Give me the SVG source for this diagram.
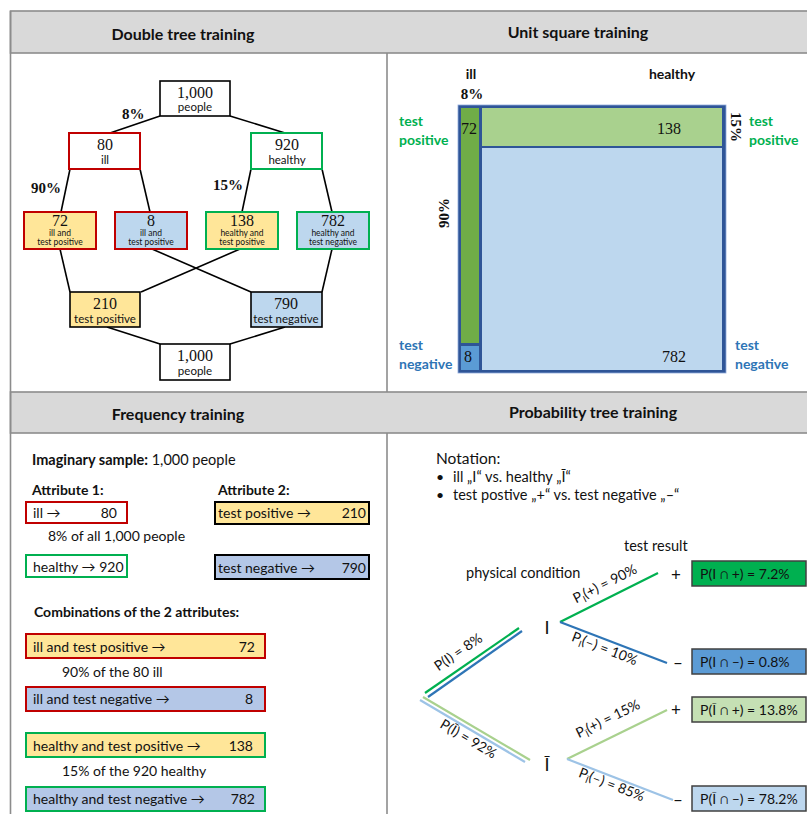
<svg xmlns="http://www.w3.org/2000/svg" width="807" height="814" viewBox="0 0 807 814">
<defs>
<style>
.hdr{font-family:Lato,"Liberation Sans",sans-serif;font-weight:bold;font-size:16px;text-anchor:middle;fill:#111}
.band{fill:#D9D9D9;stroke:#8C8C8C;stroke-width:1.6}
.grid{stroke:#8C8C8C;stroke-width:1.6;fill:none}
.num{font-family:"Liberation Serif",serif;font-size:16px;text-anchor:middle;fill:#111}
.sub{font-family:Lato,"Liberation Sans",sans-serif;font-size:11.5px;text-anchor:middle;fill:#111}
.tiny{font-family:Lato,"Liberation Sans",sans-serif;font-size:8.5px;text-anchor:middle;fill:#111}
.pct{font-family:"Liberation Serif",serif;font-weight:bold;font-size:15px;fill:#111}
.tl{stroke:#000;stroke-width:1.6;fill:none}
.bx{stroke-width:2}
.body{font-family:Lato,"Liberation Sans",sans-serif;font-size:14px;fill:#111}
.bold{font-weight:bold}
.gr{fill:#00B050;font-family:Lato,"Liberation Sans",sans-serif;font-weight:bold;font-size:14px}
.bl{fill:#2E75B6;font-family:Lato,"Liberation Sans",sans-serif;font-weight:bold;font-size:14px}
.end{text-anchor:end}
.mid{text-anchor:middle}
.rb{stroke:#404040;stroke-width:1.5}
</style>
</defs>
<rect width="807" height="814" fill="#fff"/>
<!-- frame -->
<g id="frame">
<rect class="band" x="10.5" y="11" width="800" height="42"/>
<rect class="band" x="10.5" y="392" width="800" height="41"/>
<line class="grid" x1="10.5" y1="11" x2="10.5" y2="814"/>
<line class="grid" x1="387" y1="53" x2="387" y2="392"/>
<line class="grid" x1="387" y1="433" x2="387" y2="814"/>
<text class="hdr" x="183" y="40">Double tree training</text>
<text class="hdr" x="578" y="38">Unit square training</text>
<text class="hdr" x="178" y="420">Frequency training</text>
<text class="hdr" x="593" y="418">Probability tree training</text>
</g>

<!-- Double tree -->
<g id="tree-connectors">
<line class="tl" x1="160" y1="116" x2="110" y2="133"/>
<line class="tl" x1="230" y1="116" x2="285" y2="133"/>
<line class="tl" x1="70" y1="169" x2="61" y2="212"/>
<line class="tl" x1="140" y1="169" x2="150" y2="212"/>
<line class="tl" x1="251" y1="169" x2="242" y2="212"/>
<line class="tl" x1="322" y1="169" x2="332" y2="212"/>
<line class="tl" x1="60" y1="249" x2="70" y2="292"/>
<line class="tl" x1="152" y1="249" x2="251" y2="292"/>
<line class="tl" x1="240" y1="249" x2="141" y2="292"/>
<line class="tl" x1="332" y1="249" x2="322" y2="292"/>
<line class="tl" x1="107" y1="327" x2="160" y2="344"/>
<line class="tl" x1="285" y1="327" x2="230" y2="344"/>
</g>
<text class="pct" x="122" y="119">8%</text>
<text class="pct" x="31" y="193">90%</text>
<text class="pct" x="213" y="190">15%</text>
<g id="t-top">
<rect x="160" y="81" width="70" height="35" fill="#fff" stroke="#000" stroke-width="1.6"/>
<text class="num" x="195" y="98">1,000</text>
<text class="sub" x="195" y="111">people</text>
</g>
<g id="t-ill">
<rect class="bx" x="69" y="133" width="71" height="36" fill="#fff" stroke="#C00000"/>
<text class="num" x="105" y="150">80</text>
<text class="sub" x="105" y="164">ill</text>
</g>
<g id="t-healthy">
<rect class="bx" x="251" y="133" width="71" height="36" fill="#fff" stroke="#00B050"/>
<text class="num" x="287" y="150">920</text>
<text class="sub" x="287" y="164">healthy</text>
</g>
<g id="t-72">
<rect class="bx" x="24" y="212" width="72" height="37" fill="#FFE699" stroke="#C00000"/>
<text class="num" x="60" y="226">72</text>
<text class="tiny" x="60" y="236">ill and</text>
<text class="tiny" x="60" y="245">test positive</text>
</g>
<g id="t-8">
<rect class="bx" x="115" y="212" width="72" height="37" fill="#BDD7EE" stroke="#C00000"/>
<text class="num" x="151" y="226">8</text>
<text class="tiny" x="151" y="236">ill and</text>
<text class="tiny" x="151" y="245">test positive</text>
</g>
<g id="t-138">
<rect class="bx" x="206" y="212" width="72" height="37" fill="#FFE699" stroke="#00B050"/>
<text class="num" x="242" y="226">138</text>
<text class="tiny" x="242" y="236">healthy and</text>
<text class="tiny" x="242" y="245">test positive</text>
</g>
<g id="t-782">
<rect class="bx" x="297" y="212" width="72" height="37" fill="#BDD7EE" stroke="#00B050"/>
<text class="num" x="333" y="226">782</text>
<text class="tiny" x="333" y="236">healthy and</text>
<text class="tiny" x="333" y="245">test negative</text>
</g>
<g id="t-210">
<rect x="70" y="292" width="70" height="35" fill="#FFE699" stroke="#000" stroke-width="1.6"/>
<text class="num" x="105" y="309">210</text>
<text class="sub" x="105" y="323">test positive</text>
</g>
<g id="t-790">
<rect x="251" y="292" width="71" height="35" fill="#BDD7EE" stroke="#000" stroke-width="1.6"/>
<text class="num" x="286" y="309">790</text>
<text class="sub" x="286" y="323">test negative</text>
</g>
<g id="t-bottom">
<rect x="160" y="344" width="70" height="36" fill="#fff" stroke="#000" stroke-width="1.6"/>
<text class="num" x="195" y="361">1,000</text>
<text class="sub" x="195" y="375">people</text>
</g>

<!-- Unit square -->
<g id="unit-square">
<rect x="458" y="105" width="268" height="268" fill="#2F5597" stroke="#8FAADC" stroke-width="0.8"/>
<rect x="461" y="108" width="18" height="235" fill="#70AD47"/>
<rect x="461" y="346" width="18" height="24" fill="#5B9BD5"/>
<rect x="482" y="108" width="240" height="38" fill="#A9D18E"/>
<rect x="482" y="148" width="240" height="222" fill="#BDD7EE"/>
<text class="num" x="461" y="134" style="text-anchor:start">72</text>
<text class="num" x="669" y="134">138</text>
<text class="num" x="464" y="362" style="text-anchor:start">8</text>
<text class="num" x="674" y="362">782</text>
</g>
<text class="body bold mid" x="471" y="79">ill</text>
<text class="body bold mid" x="672" y="79">healthy</text>
<text class="pct mid" x="472" y="99">8%</text>
<text class="pct mid" transform="translate(449,213) rotate(-90)">90%</text>
<text class="pct mid" transform="translate(731,127) rotate(90)">15%</text>
<text class="gr" x="399" y="126">test</text>
<text class="gr" x="399" y="145">positive</text>
<text class="gr" x="749" y="126">test</text>
<text class="gr" x="749" y="145">positive</text>
<text class="bl" x="399" y="350">test</text>
<text class="bl" x="399" y="369">negative</text>
<text class="bl" x="735" y="350">test</text>
<text class="bl" x="735" y="369">negative</text>

<!-- Frequency training -->
<text class="body" style="font-size:14.5px" x="32" y="465"><tspan class="bold">Imaginary sample:</tspan> 1,000 people</text>
<text class="body bold" x="32" y="495">Attribute 1:</text>
<text class="body bold" x="218" y="495">Attribute 2:</text>
<g id="f-ill">
<rect class="bx" x="26" y="502" width="101" height="21" fill="#fff" stroke="#C00000"/>
<text class="body" x="33" y="518">ill →</text>
<text class="body end" x="117" y="518">80</text>
</g>
<text class="body" x="48" y="541">8% of all 1,000 people</text>
<g id="f-healthy">
<rect class="bx" x="26" y="555" width="101" height="22" fill="#fff" stroke="#00B050"/>
<text class="body" x="33" y="572">healthy → 920</text>
</g>
<g id="f-pos">
<rect class="bx" x="215" y="502" width="154" height="22" fill="#FFE699" stroke="#000"/>
<text class="body" x="218" y="518">test positive →</text>
<text class="body end" x="366" y="518">210</text>
</g>
<g id="f-neg">
<rect class="bx" x="215" y="555" width="154" height="24" fill="#B4C7E7" stroke="#000"/>
<text class="body" x="218" y="573">test negative →</text>
<text class="body end" x="366" y="573">790</text>
</g>
<text class="body bold" x="34" y="617">Combinations of the 2 attributes:</text>
<g id="f-ip">
<rect class="bx" x="26" y="634" width="239" height="24" fill="#FFE699" stroke="#C00000"/>
<text class="body" x="33" y="652">ill and test positive →</text>
<text class="body end" x="255" y="652">72</text>
</g>
<text class="body" x="62" y="677">90% of the 80 ill</text>
<g id="f-in">
<rect class="bx" x="26" y="687" width="239" height="24" fill="#B4C7E7" stroke="#C00000"/>
<text class="body" x="33" y="704">ill and test negative →</text>
<text class="body end" x="253" y="704">8</text>
</g>
<g id="f-hp">
<rect class="bx" x="26" y="733" width="239" height="24" fill="#FFE699" stroke="#00B050"/>
<text class="body" x="33" y="751">healthy and test positive →</text>
<text class="body end" x="253" y="751">138</text>
</g>
<text class="body" x="62" y="776">15% of the 920 healthy</text>
<g id="f-hn">
<rect class="bx" x="26" y="787" width="239" height="24" fill="#B4C7E7" stroke="#00B050"/>
<text class="body" x="33" y="804">healthy and test negative →</text>
<text class="body end" x="255" y="804">782</text>
</g>

<!-- Probability tree -->
<text class="body" style="font-size:15.5px" x="436" y="464">Notation:</text>
<text class="body" x="436" y="482">•</text>
<text class="body" style="font-size:14.5px" x="453" y="482">ill „I“ vs. healthy „Ī“</text>
<text class="body" x="436" y="500">•</text>
<text class="body" style="font-size:14.5px" x="453" y="500">test postive „+“ vs. test negative „–“</text>
<text class="body" style="font-size:14.5px" x="624" y="551">test result</text>
<text class="body" style="font-size:14.5px" x="466" y="578">physical condition</text>
<g id="p-connectors" fill="none" stroke-width="2.2">
<line x1="425" y1="693" x2="519" y2="628" stroke="#00B050"/>
<line x1="428" y1="697" x2="522" y2="631" stroke="#2E75B6"/>
<line x1="423" y1="697" x2="530" y2="760" stroke="#A9D18E"/>
<line x1="420" y1="700" x2="525" y2="762" stroke="#9DC3E6"/>
<line x1="560" y1="622" x2="658" y2="573" stroke="#00B050"/>
<line x1="560" y1="622" x2="667" y2="663" stroke="#2E75B6"/>
<line x1="567" y1="759" x2="667" y2="710" stroke="#A9D18E"/>
<line x1="567" y1="759" x2="673" y2="800" stroke="#9DC3E6"/>
</g>
<text class="body" style="font-size:18px" x="547" y="634" text-anchor="middle">I</text>
<text class="body" style="font-size:18px" x="547" y="771" text-anchor="middle">Ī</text>
<text class="body mid" style="font-size:17px" x="676" y="581">+</text>
<text class="body mid" style="font-size:17px" x="678" y="669">–</text>
<text class="body mid" style="font-size:17px" x="676" y="716">+</text>
<text class="body mid" style="font-size:17px" x="678" y="806">–</text>
<text class="body mid" transform="translate(461,656) rotate(-34.7)">P(I) = 8%</text>
<text class="body mid" transform="translate(466,743) rotate(30.5)">P(Ī) = 92%</text>
<text class="body mid" transform="translate(607,588) rotate(-26.6)">P<tspan font-size="9" dy="3">I</tspan><tspan dy="-3">(+) = 90%</tspan></text>
<text class="body mid" transform="translate(603,653) rotate(21)">P<tspan font-size="9" dy="3">I</tspan><tspan dy="-3">(–) = 10%</tspan></text>
<text class="body mid" transform="translate(610,723) rotate(-26)">P<tspan font-size="9" dy="3">Ī</tspan><tspan dy="-3">(+) = 15%</tspan></text>
<text class="body mid" transform="translate(610,789) rotate(21)">P<tspan font-size="9" dy="3">Ī</tspan><tspan dy="-3">(–) = 85%</tspan></text>
<g id="r1">
<rect class="rb" x="692" y="561" width="114" height="25" fill="#00B050"/>
<text class="body" x="700" y="579">P(I ∩ +) = 7.2%</text>
</g>
<g id="r2">
<rect class="rb" x="692" y="649" width="114" height="25" fill="#5B9BD5"/>
<text class="body" x="700" y="667">P(I ∩ –) = 0.8%</text>
</g>
<g id="r3">
<rect class="rb" x="692" y="697" width="114" height="25" fill="#C5E0B4"/>
<text class="body" x="700" y="715">P(Ī ∩ +) = 13.8%</text>
</g>
<g id="r4">
<rect class="rb" x="692" y="786" width="114" height="25" fill="#BDD7EE"/>
<text class="body" x="700" y="804">P(Ī ∩ –) = 78.2%</text>
</g>
</svg>
